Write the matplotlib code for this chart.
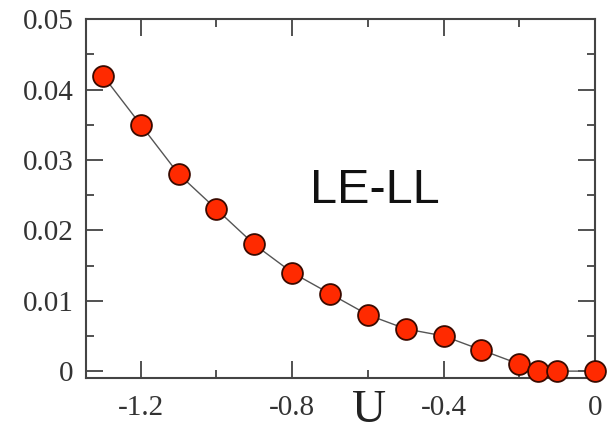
import matplotlib
matplotlib.use('Agg')
import matplotlib.pyplot as plt
from matplotlib.ticker import MultipleLocator

# data
u_vals = [-1.3, -1.2, -1.1, -1.0, -0.9, -0.8, -0.7, -0.6, -0.5, -0.4, -0.3, -0.2, -0.15, -0.1, 0.0]
gap_vals = [0.042, 0.035, 0.028, 0.023, 0.018, 0.014, 0.011, 0.008, 0.006, 0.005, 0.003, 0.001, 0.0, 0.0, 0.0]
x_ticks = [-1.2, -0.8, -0.4, 0.0]
x_tick_labels = ['-1.2', '-0.8', '-0.4', '0']
y_ticks = [0, 0.01, 0.02, 0.03, 0.04, 0.05]
y_tick_labels = ['0', '0.01', '0.02', '0.03', '0.04', '0.05']

fig = plt.figure(figsize=(6.09, 4.47), dpi=100)
ax = fig.add_axes([0.141, 0.154, 0.836, 0.803])

ax.plot(u_vals, gap_vals, color='#555555', linewidth=1.0, zorder=2)
ax.plot(u_vals, gap_vals, linestyle='none', marker='o', markersize=15,
        markerfacecolor='#ff2a00', markeredgecolor='#3a0a00', markeredgewidth=1.3,
        zorder=3, clip_on=False)

ax.set_xlim(-1.345, 0.0)
ax.set_ylim(-0.001, 0.05)

ax.set_xticks(x_ticks)
ax.set_xticklabels(x_tick_labels)
ax.set_yticks(y_ticks)
ax.set_yticklabels(y_tick_labels)
ax.xaxis.set_minor_locator(MultipleLocator(0.2))
ax.yaxis.set_minor_locator(MultipleLocator(0.005))

ax.tick_params(which='both', direction='in', top=True, right=True, colors='#333333',
               labelcolor='#333333', width=1.2)
ax.tick_params(which='major', length=12, labelsize=21)
ax.tick_params(axis='y', which='major', pad=9)
ax.tick_params(axis='x', which='major', pad=12)
ax.tick_params(which='minor', length=6)
for lab in ax.get_xticklabels() + ax.get_yticklabels():
    lab.set_family('Liberation Serif')

for sp in ax.spines.values():
    sp.set_color('#444444')
    sp.set_linewidth(1.5)

ax.set_xlabel('U', family='Liberation Serif', fontsize=34, color='#222222')
ax.xaxis.set_label_coords(0.556, -0.09, transform=ax.transAxes)
ax.xaxis.label.set_va('center')

ax.text(-0.581, 0.0256, 'LE-LL', family='Liberation Sans', fontsize=35, color='#111111',
        ha='center', va='center')

fig.savefig('out.png', dpi=100)
